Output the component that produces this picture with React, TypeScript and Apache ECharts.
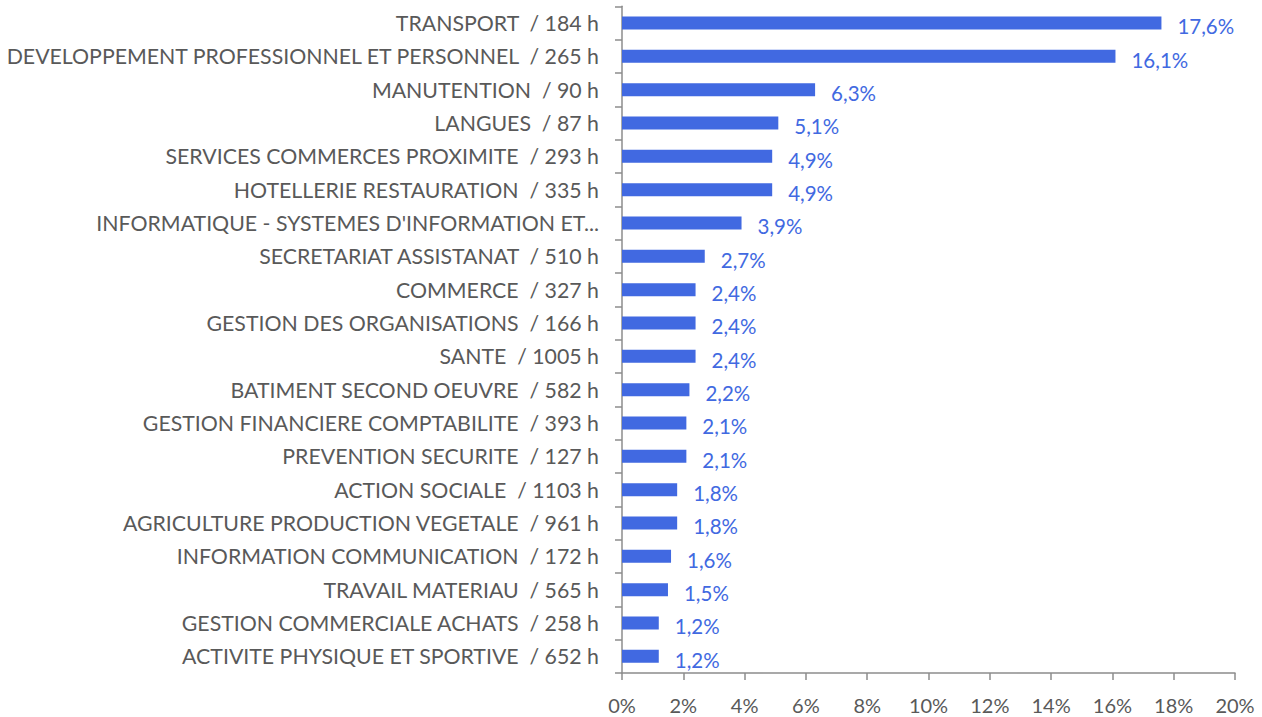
import React, { useEffect, useRef } from "react";
import * as echarts from "echarts";

const categories = [
  "TRANSPORT  / 184 h",
  "DEVELOPPEMENT PROFESSIONNEL ET PERSONNEL  / 265 h",
  "MANUTENTION  / 90 h",
  "LANGUES  / 87 h",
  "SERVICES COMMERCES PROXIMITE  / 293 h",
  "HOTELLERIE RESTAURATION  / 335 h",
  "INFORMATIQUE - SYSTEMES D'INFORMATION ET...",
  "SECRETARIAT ASSISTANAT  / 510 h",
  "COMMERCE  / 327 h",
  "GESTION DES ORGANISATIONS  / 166 h",
  "SANTE  / 1005 h",
  "BATIMENT SECOND OEUVRE  / 582 h",
  "GESTION FINANCIERE COMPTABILITE  / 393 h",
  "PREVENTION SECURITE  / 127 h",
  "ACTION SOCIALE  / 1103 h",
  "AGRICULTURE PRODUCTION VEGETALE  / 961 h",
  "INFORMATION COMMUNICATION  / 172 h",
  "TRAVAIL MATERIAU  / 565 h",
  "GESTION COMMERCIALE ACHATS  / 258 h",
  "ACTIVITE PHYSIQUE ET SPORTIVE  / 652 h",
];

const values = [17.6, 16.1, 6.3, 5.1, 4.9, 4.9, 3.9, 2.7, 2.4, 2.4, 2.4, 2.2, 2.1, 2.1, 1.8, 1.8, 1.6, 1.5, 1.2, 1.2];

const xTicks = { min: 0, max: 20, interval: 2 };

const FONT = "Lato, 'Open Sans', sans-serif";
const GRAY = "#595959";
const AXIS = "#8c8c8c";
const BLUE = "#4169E1";

export default function App() {
  const ref = useRef<HTMLDivElement>(null);
  useEffect(() => {
    if (!ref.current) return;
    const chart = echarts.init(ref.current, undefined, { renderer: "svg" });
    chart.setOption({
      animation: false,
      grid: { left: 622, right: 27, top: 6.3, bottom: 44, containLabel: false },
      xAxis: {
        type: "value",
        min: xTicks.min,
        max: xTicks.max,
        interval: xTicks.interval,
        splitLine: { show: false },
        axisLine: { show: true, lineStyle: { color: AXIS, width: 1.5 } },
        axisTick: { show: true, length: 7, lineStyle: { color: AXIS, width: 1.5 } },
        axisLabel: {
          formatter: (v: number) => `${v}%`,
          color: GRAY,
          fontSize: 20,
          fontFamily: FONT,
          margin: 22,
        },
      },
      yAxis: {
        type: "category",
        data: categories,
        inverse: true,
        axisLine: { show: true, lineStyle: { color: AXIS, width: 1.5 } },
        axisTick: { show: true, length: 7, lineStyle: { color: AXIS, width: 1.5 } },
        axisLabel: {
          color: GRAY,
          fontSize: 21.3,
          fontFamily: FONT,
          margin: 23,
        },
      },
      series: [
        {
          type: "bar",
          data: values,
          barWidth: 13,
          itemStyle: { color: BLUE },
          label: {
            show: true,
            position: "right",
            distance: 16,
            offset: [0, 3.5],
            color: BLUE,
            fontSize: 20.5,
            fontFamily: FONT,
            formatter: (p: any) => `${String(p.value).replace(".", ",")}%`,
          },
        },
      ],
    });
    return () => chart.dispose();
  }, []);
  return (
    <div
      ref={ref}
      style={{ position: "fixed", left: 0, top: 0, width: 1262, height: 717, background: "#fff" }}
    />
  );
}
